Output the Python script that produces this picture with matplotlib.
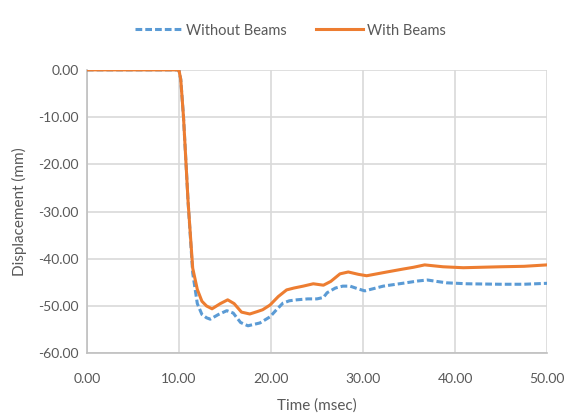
import numpy as np
import matplotlib.pyplot as plt

plt.rcParams['font.family'] = ['Lato', 'DejaVu Sans']

# Serie (tempo in msec, spostamento in mm)
t_senza = [0, 5, 9.9, 10.0, 10.2, 10.5, 11.0, 11.5, 12.0, 12.5, 13.0, 13.4, 14.3,
           15.2, 15.9, 16.7, 17.5, 18.8, 19.9, 20.6, 21.3, 22.0, 22.8, 24.0,
           25.0, 25.7, 26.1, 27.0, 27.8, 28.6, 29.5, 30.2, 31.2, 32.2, 34.3,
           36.0, 37.0, 38.0, 39.1, 41.3, 44.9, 47.5, 50.0]
d_senza = [0, 0, 0, 0, -2, -10, -28, -43, -49.5, -51.8, -52.5, -52.8, -51.8,
           -51.0, -51.5, -53.5, -54.2, -53.6, -52.3, -50.8, -49.4, -48.9, -48.7, -48.5,
           -48.5, -48.2, -47.2, -46.2, -45.8, -45.8, -46.4, -46.8, -46.3, -45.8, -45.2,
           -44.7, -44.5, -44.8, -45.1, -45.3, -45.4, -45.4, -45.2]

t_con = [0, 5, 9.9, 10.0, 10.2, 10.5, 11.0, 11.5, 12.0, 12.5, 13.0, 13.6, 14.5,
         15.3, 16.0, 16.8, 17.7, 18.5, 19.1, 19.9, 20.8, 21.7, 22.5, 23.5,
         24.6, 25.7, 26.5, 27.5, 28.4, 29.5, 30.4, 31.5, 32.6, 34.3, 35.5,
         36.7, 37.7, 38.7, 40.9, 44.9, 47.5, 50.0]
d_con = [0, 0, 0, 0, -2, -10, -28, -42, -46.5, -49, -50, -50.6, -49.5,
         -48.7, -49.5, -51.3, -51.7, -51.2, -50.8, -49.8, -48, -46.6, -46.2, -45.8,
         -45.3, -45.6, -44.8, -43.2, -42.8, -43.3, -43.6, -43.2, -42.8, -42.2, -41.8,
         -41.3, -41.5, -41.7, -41.9, -41.7, -41.6, -41.3]

grigio = '#595959'

fig = plt.figure(figsize=(5.64, 4.16), dpi=100)
ax = fig.add_axes([0.154, 0.151, 0.816, 0.681])

ax.plot(t_senza, d_senza, color='#5b9bd5', linewidth=2.2, linestyle=(0, (2.2, 1)),
        label='Without Beams', zorder=3)
ax.plot(t_con, d_con, color='#ed7d31', linewidth=2.2, label='With Beams', zorder=4)

ax.set_xlim(0, 50)
ax.set_ylim(-60, 0)
ax.set_xticks(np.arange(0, 51, 10))
ax.set_yticks(np.arange(-60, 1, 10))
ax.set_xticklabels([f'{v:.2f}' for v in np.arange(0, 51, 10)])
ax.set_yticklabels([f'{v:.2f}' for v in np.arange(-60, 1, 10)])
ax.tick_params(length=0, labelsize=10, colors=grigio)
ax.tick_params(axis='x', pad=14)
ax.tick_params(axis='y', pad=6)

ax.grid(True, color='#d9d9d9', linewidth=1.2)
ax.set_axisbelow(True)
for lato in ['top', 'right']:
    ax.spines[lato].set_visible(False)
for lato in ['left', 'bottom']:
    ax.spines[lato].set_color('#bfbfbf')
    ax.spines[lato].set_linewidth(1.2)

ax.set_xlabel('Time (msec)', fontsize=11, color=grigio, labelpad=10)
ax.set_ylabel('Displacement (mm)', fontsize=11, color=grigio, labelpad=8)

fig.legend(loc='upper center', bbox_to_anchor=(0.515, 0.975), ncol=2, frameon=False,
           fontsize=10.5, labelcolor=grigio, handlelength=3.2, columnspacing=2.0,
           handletextpad=0.3)

plt.savefig('out.png', dpi=100)
